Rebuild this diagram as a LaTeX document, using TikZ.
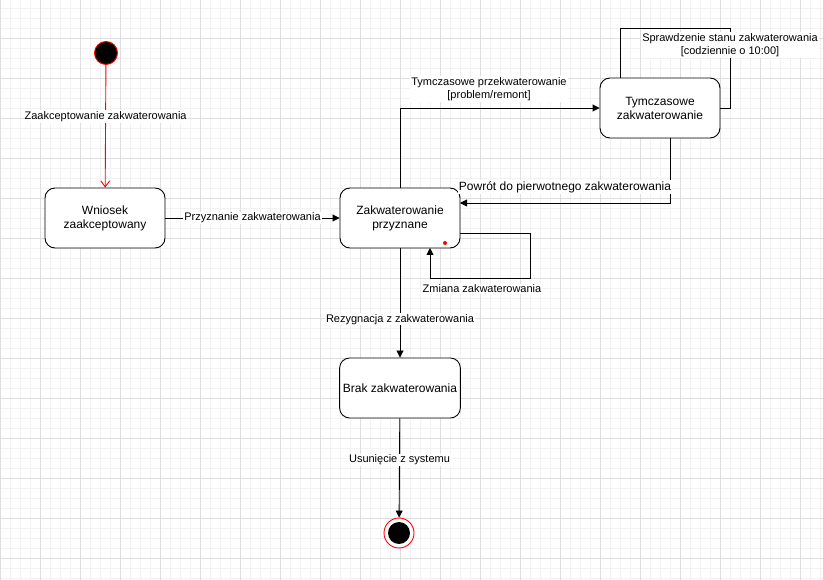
\documentclass[tikz,border=0pt]{standalone}
\usepackage{fontspec}
\setmainfont{Liberation Sans}
\usetikzlibrary{arrows.meta}

\begin{document}
\begin{tikzpicture}[x=1pt,y=-1pt,
  state/.style={draw,line width=0.9pt,rounded corners=10pt,fill=white,
    minimum width=120pt,minimum height=60pt,align=center,
    font=\fontsize{12}{14}\selectfont},
  lbl/.style={fill=white,inner sep=1pt,align=center,
    font=\fontsize{11}{13.5}\selectfont},
  flow/.style={line width=0.9pt,-{Triangle[length=7pt,width=7pt]}},
  plain/.style={line width=0.9pt},
  gridminor/.style={draw=black!5,line width=0.8pt},
  gridmajor/.style={draw=black!13,line width=0.8pt},
]
\useasboundingbox (0,0) rectangle (823,580);
\fill[white] (0,0) rectangle (823,580);

% background grid
\foreach \x in {0,10,...,820} \draw[gridminor] (\x,0) -- (\x,580);
\foreach \y in {8,18,...,578} \draw[gridminor] (0,\y) -- (823,\y);
\foreach \x in {0,40,...,820} \draw[gridmajor] (\x,0) -- (\x,580);
\foreach \y in {38,78,...,578} \draw[gridmajor] (0,\y) -- (823,\y);

% states
\node[circle,fill=black,draw=red,line width=0.9pt,minimum size=23pt,inner sep=0pt] (start) at (106,53) {};
\node[state] (wniosek) at (105,218) {Wniosek\\zaakceptowany};
\node[state] (przyznane) at (400,218) {Zakwaterowanie\\przyznane};
\node[state] (tymcz) at (660,108) {Tymczasowe\\zakwaterowanie};
\node[state] (brak) at (400,388) {Brak zakwaterowania};
\node[circle,draw=red,fill=white,line width=0.9pt,minimum size=30pt,inner sep=0pt] (end) at (399,533) {};
\node[circle,fill=black,minimum size=22pt,inner sep=0pt] (endcore) at (end.center) {};
\fill[red] (445,243) circle (2pt);

% initial transition
\draw[red,line width=0.9pt,-{Straight Barb[length=6pt,width=9pt]}] (start) -- (wniosek)
  node[lbl,text=black,pos=0.42] {Zaakceptowanie zakwaterowania};

\draw[flow] (wniosek) -- (przyznane)
  node[lbl,midway] {Przyznanie zakwaterowania};

% to temporary accommodation
\coordinate (up) at (400,108);
\draw[flow] (przyznane.north) -- (up) -- (tymcz.west);
\node[lbl] (lbltymcz) at (489,89) {Tymczasowe przekwaterowanie\\{}[problem/remont]};

% back to the original accommodation
\coordinate (backc) at (670,203);
\draw[flow] (670,138) -- (backc) -- (460,203);
\node[lbl,font=\fontsize{12}{14}\selectfont] (lblpowrot) at (565,187) {Powrót do pierwotnego zakwaterowania};

% daily check loop
\coordinate (l1) at (620,28);
\coordinate (l2) at (730,28);
\coordinate (l3) at (730,108);
\draw[plain] (620,78) -- (l1) -- (l2) -- (l3) -- (tymcz.east);
\node[lbl] (lblcheck) at (730,45) {Sprawdzenie stanu zakwaterowania\\{}[codziennie o 10:00]};

% change of accommodation loop
\coordinate (s1) at (530,233);
\coordinate (s2) at (530,278);
\coordinate (s3) at (430,278);
\draw[flow] (460,233) -- (s1) -- (s2) -- (s3) -- (430,248);
\node[lbl] (lblzmiana) at (482,289) {Zmiana zakwaterowania};

% resignation and removal
\draw[flow] (przyznane) -- (brak)
  node[lbl,pos=0.65] {Rezygnacja z zakwaterowania};
\draw[flow] (brak) -- (end)
  node[lbl,pos=0.42] {Usunięcie z systemu};
\end{tikzpicture}
\end{document}
